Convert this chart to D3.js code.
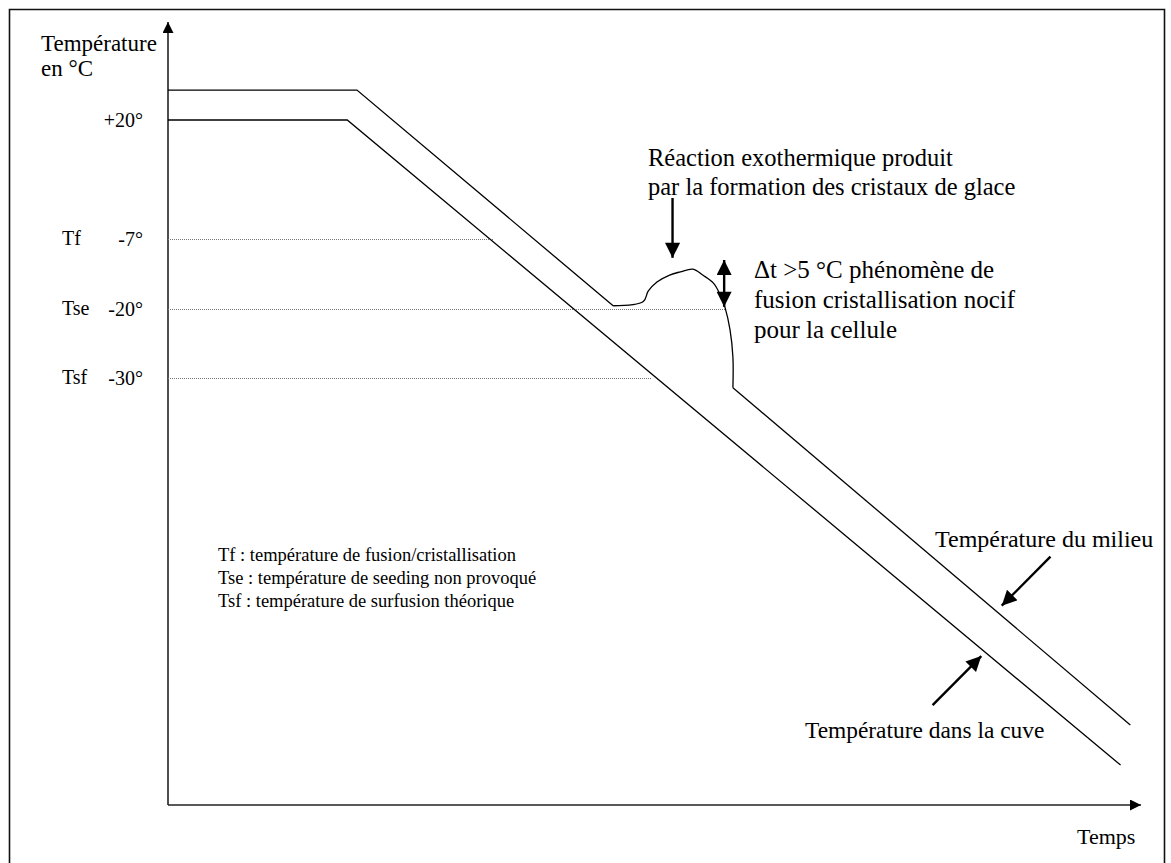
<!DOCTYPE html>
<html>
<head>
<meta charset="utf-8">
<script src="https://cdn.jsdelivr.net/npm/d3@7"></script>
<style>
 body{margin:0;background:#fff;}
</style>
</head>
<body>
<div id="chart"></div>
<script>
// temperature ticks shown on the left
var tickTemps = [20, -7, -20, -30];
var tickNames = ["", "Tf", "Tse", "Tsf"];
var tickLabels = ["+20°", "-7°", "-20°", "-30°"];
// where each dotted guide stops (time units)
var guideEnd = [null, 33.4, 57.3, 49.7];

// température dans la cuve
var cuveTime = [0, 18.4, 97.8];
var cuveTemp = [20, 20, -86.1];

// température du milieu (plateau, descente, pic exothermique, descente)
var milieuTime = [0, 19.4, 45.7, 48.8, 49.3, 50.2, 51.5, 52.6, 53.9, 54.9, 56.0, 56.7, 57.2, 57.7, 58.0, 58.0, 98.8];
var milieuTemp = [26.8, 26.8, -19.4, -18.6, -16.7, -15.0, -13.7, -13.1, -12.6, -13.7, -15.2, -17.4, -19.8, -23.0, -27.0, -31.4, -80.3];
var bumpFrom = 2, bumpTo = 15;

var legendLines = [
 "Tf : température de fusion/cristallisation",
 "Tse : température de seeding non provoqué",
 "Tsf : température de surfusion théorique"
];
var noteExo = ["Réaction exothermique produit", "par la formation des cristaux de glace"];
var noteDelta = ["\u0394t >5 °C phénomène de", "fusion cristallisation nocif", "pour la cellule"];

var serif = '"Liberation Serif", "Times New Roman", serif';
var width = 1171, height = 863;
var svg = d3.select("#chart").append("svg")
  .attr("width", width).attr("height", height)
  .style("display", "block")
  .style("font-family", serif);

svg.append("path")
  .attr("d", "M9.5,870 V9.5 H1164.5 V870")
  .attr("fill", "none").attr("stroke", "#111").attr("stroke-width", 1.6);

var x0 = 168, yBottom = 805, yTop = 22, xRight = 1141;
var x = d3.scaleLinear().domain([0, 100]).range([x0, 1142]);
// schematic (non uniform) temperature scale
var y = d3.scaleLinear().domain(tickTemps).range([120, 239, 309, 378]);

var defs = svg.append("defs");
function marker(id, w, h){
  defs.append("marker").attr("id", id)
    .attr("viewBox", "0 0 10 10").attr("refX", 10).attr("refY", 5)
    .attr("markerWidth", w).attr("markerHeight", h)
    .attr("markerUnits", "userSpaceOnUse")
    .attr("orient", "auto-start-reverse")
    .append("path").attr("d", "M0,0 L10,5 L0,10 z").attr("fill", "#000");
}
marker("axhead", 13, 11);
marker("bighead", 16, 15);

// axes
svg.append("line").attr("x1", x0).attr("y1", yBottom).attr("x2", x0).attr("y2", yTop)
  .attr("stroke", "#222").attr("stroke-width", 1.6).attr("marker-end", "url(#axhead)");
svg.append("line").attr("x1", x0).attr("y1", yBottom).attr("x2", xRight).attr("y2", yBottom)
  .attr("stroke", "#222").attr("stroke-width", 1.6).attr("marker-end", "url(#axhead)");

// dotted guides
tickTemps.forEach(function(t, i){
  if(guideEnd[i] === null) return;
  svg.append("line")
    .attr("x1", x0).attr("x2", x(guideEnd[i]))
    .attr("y1", y(t) + 0.5).attr("y2", y(t) + 0.5)
    .attr("stroke", "#777").attr("stroke-width", 1).attr("stroke-dasharray", "1,1");
});

// tick labels
var yAxis = d3.axisLeft(y).tickValues(tickTemps).tickSize(0).tickPadding(25)
  .tickFormat(function(d, i){ return tickLabels[i]; });
var ga = svg.append("g").attr("transform", "translate(" + x0 + ",0)").call(yAxis);
ga.attr("font-family", null).attr("font-size", null);
ga.select(".domain").remove();
ga.selectAll("text").style("font-size", "20px").style("font-family", serif).attr("fill", "#000");
svg.selectAll(".tname").data(tickTemps).enter().append("text")
  .attr("class", "tname")
  .attr("x", 62).attr("y", function(d){ return y(d); })
  .attr("dy", "0.32em").style("font-size", "20px")
  .text(function(d, i){ return tickNames[i]; });

// curves
var line = d3.line().x(function(d){ return x(d[0]); }).y(function(d){ return y(d[1]); });
var smooth = d3.line().x(function(d){ return x(d[0]); }).y(function(d){ return y(d[1]); })
  .curve(d3.curveCatmullRom.alpha(0.5));

var cuve = d3.zip(cuveTime, cuveTemp);
var milieu = d3.zip(milieuTime, milieuTemp);

svg.append("path").attr("d", line(cuve))
  .attr("fill", "none").attr("stroke", "#000").attr("stroke-width", 1.3);
svg.append("path").attr("d", line(milieu.slice(0, bumpFrom + 1)))
  .attr("fill", "none").attr("stroke", "#000").attr("stroke-width", 1.3);
svg.append("path").attr("d", smooth(milieu.slice(bumpFrom, bumpTo + 1)))
  .attr("fill", "none").attr("stroke", "#000").attr("stroke-width", 1.3);
svg.append("path").attr("d", line(milieu.slice(bumpTo)))
  .attr("fill", "none").attr("stroke", "#000").attr("stroke-width", 1.3);

// annotation arrows
function arrow(t1, v1, t2, v2, both){
  var l = svg.append("line")
    .attr("x1", x(t1)).attr("y1", y(v1)).attr("x2", x(t2)).attr("y2", y(v2))
    .attr("stroke", "#000").attr("stroke-width", 2.4)
    .attr("marker-end", "url(#bighead)");
  if(both) l.attr("marker-start", "url(#bighead)");
}
arrow(51.8, 2.3, 51.8, -10.5, false);
arrow(57.1, -10.9, 57.1, -19.6, true);
arrow(90.6, -55.9, 85.6, -63.0, false);
arrow(78.5, -77.4, 83.5, -70.3, false);

// texts
function lines(arr, xx, yy, step, size){
  svg.append("g").selectAll("text").data(arr).enter().append("text")
    .attr("x", xx).attr("y", function(d, i){ return yy + i * step; })
    .style("font-family", serif).style("font-size", size + "px")
    .attr("fill", "#000")
    .text(function(d){ return d; });
}
lines(["Température", "en °C"], 41, 51, 25, 23);
lines(noteExo, 648, 166, 29, 24.5);
lines(noteDelta, 754, 278, 30, 25);
lines(legendLines, 218, 561, 23, 18.5);
lines(["Température du milieu"], 935, 547, 0, 24);
lines(["Température dans la cuve"], 805, 738, 0, 23.4);
lines(["Temps"], 1077, 844, 0, 22);
</script>
</body>
</html>
